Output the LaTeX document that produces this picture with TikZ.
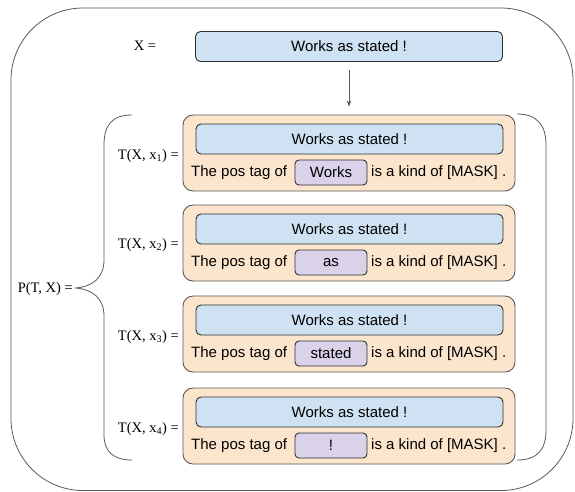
\documentclass[tikz,border=0pt]{standalone}
\usepackage{fontspec}
\setmainfont{Liberation Serif}
\newfontfamily\gsans{Liberation Sans}
\usetikzlibrary{arrows.meta}
\definecolor{sentblue}{HTML}{CFE2F3}
\definecolor{promptorange}{HTML}{FCE5CD}
\definecolor{slotpurple}{HTML}{D9D2E9}
\definecolor{edgegray}{HTML}{595959}
\definecolor{boxline}{HTML}{2E2E2E}
\begin{document}
\begin{tikzpicture}[x=1pt, y=-1pt,
  sentbox/.style={draw=boxline, line width=0.9pt, fill=sentblue, rounded corners=5pt, minimum width=307pt, minimum height=30pt, inner sep=0pt, font=\gsans\fontsize{15}{18}\selectfont},
  promptbox/.style={draw=edgegray, line width=0.9pt, fill=promptorange, rounded corners=10pt, minimum width=332pt, minimum height=76pt, inner sep=0pt},
  slotbox/.style={draw=boxline, line width=0.9pt, fill=slotpurple, rounded corners=4pt, minimum width=72pt, minimum height=25pt, inner sep=0pt, font=\gsans\fontsize{15}{18}\selectfont},
  words/.style={inner sep=0pt, font=\gsans\fontsize{15}{18}\selectfont},
  eqlabel/.style={inner sep=1pt, font=\fontsize{14.5}{17}\selectfont},
  bracket/.style={draw=edgegray, line width=0.8pt}]
\useasboundingbox (0,0) rectangle (575,491);
% outer frame
\draw[bracket, rounded corners=72pt] (11,8) rectangle (573,490.5);
% input sentence
\node[eqlabel] (xlabel) at (145,46) {X =};
\node[sentbox] (x) at (349,46.5) {Works as stated !};
% templates
\node[promptbox] (t1) at (349,153) {};
\node[sentbox] (s1) at (349.5,139) {Works as stated !};
\node[slotbox] (w1) at (331,172.5) {Works};
\node[words, anchor=west] (a1) at (191,172.5) {The pos tag of};
\node[words, anchor=west] (b1) at (371,172.5) {is a kind of [MASK] .};
\node[eqlabel, anchor=east] (l1) at (180,156) {T(X, x\textsubscript{1}) =};
\node[promptbox] (t2) at (349,243) {};
\node[sentbox] (s2) at (349.5,229) {Works as stated !};
\node[slotbox] (w2) at (331,262.5) {as};
\node[words, anchor=west] (a2) at (191,262.5) {The pos tag of};
\node[words, anchor=west] (b2) at (371,262.5) {is a kind of [MASK] .};
\node[eqlabel, anchor=east] (l2) at (180,245) {T(X, x\textsubscript{2}) =};
\node[promptbox] (t3) at (349,334) {};
\node[sentbox] (s3) at (349.5,320) {Works as stated !};
\node[slotbox] (w3) at (331,353.5) {stated};
\node[words, anchor=west] (a3) at (191,353.5) {The pos tag of};
\node[words, anchor=west] (b3) at (371,353.5) {is a kind of [MASK] .};
\node[eqlabel, anchor=east] (l3) at (180,337) {T(X, x\textsubscript{3}) =};
\node[promptbox] (t4) at (349,426) {};
\node[sentbox] (s4) at (349.5,412) {Works as stated !};
\node[slotbox] (w4) at (331,445.5) {!};
\node[words, anchor=west] (a4) at (191,445.5) {The pos tag of};
\node[words, anchor=west] (b4) at (371,445.5) {is a kind of [MASK] .};
\node[eqlabel, anchor=east] (l4) at (180,429) {T(X, x\textsubscript{4}) =};
\draw[-{Stealth[length=6pt, width=4.5pt]}, edgegray, line width=0.8pt, shorten <=8pt, shorten >=8pt] (x) -- (t1);
% brace and bracket
\node[eqlabel, anchor=east] (p) at (74,289) {P(T, X) =};
\draw[bracket] (132,115) .. controls (112,115) and (104,125) .. (104,145) -- (104,260)
  .. controls (104,278) and (92,287) .. (75,288) .. controls (92,289) and (104,298) .. (104,316)
  -- (104,435) .. controls (104,452) and (114,460) .. (132,460);
\draw[bracket] (517,114) .. controls (537,114) and (546,125) .. (546,145) -- (546,430)
  .. controls (546,450) and (537,460) .. (517,460);
\end{tikzpicture}
\end{document}
